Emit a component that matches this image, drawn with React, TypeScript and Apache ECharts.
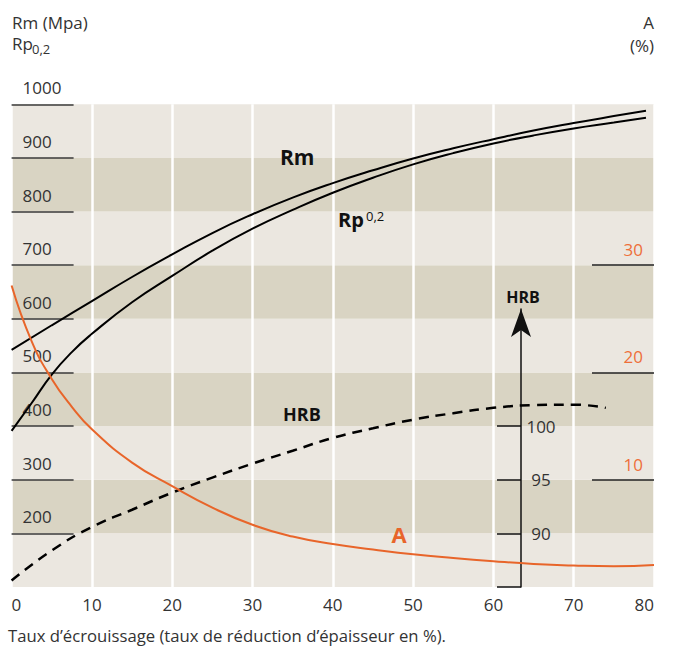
import React, { useEffect, useRef } from "react";
import * as echarts from "echarts";

// ---- data ----
const xRm = [0, 5, 10, 15, 20, 25, 30, 35, 40, 45, 50, 55, 60, 65, 70, 75, 79];
const rmValues = [542, 588, 633, 678, 720, 760, 795, 826, 853, 877, 899, 918, 935, 951, 965, 978, 988];

const xRp = [0, 2.5, 5, 7.5, 10, 15, 20, 25, 30, 35, 40, 45, 50, 55, 60, 65, 70, 75, 79];
const rpValues = [391, 443, 496, 538, 572, 631, 680, 727, 768, 803, 835, 863, 888, 909, 927, 942, 955, 966, 975];

const xElong = [0, 2.5, 5, 7.5, 10, 15, 20, 25, 30, 35, 40, 45, 50, 55, 60, 65, 70, 75, 80];
const aValues = [28.1, 22.9, 19.4, 16.8, 14.7, 11.6, 9.4, 7.4, 5.8, 4.7, 4.0, 3.5, 3.05, 2.7, 2.4, 2.15, 2.0, 1.93, 2.05];

const xHardness = [0, 5, 10, 15, 20, 25, 30, 35, 40, 45, 50, 55, 60, 65, 70, 74];
const hrbValues = [85.6, 88.4, 90.6, 92.2, 93.8, 95.2, 96.5, 97.7, 98.9, 99.8, 100.6, 101.2, 101.7, 101.95, 102.0, 101.7];

const mpaTicks = [200, 300, 400, 500, 600, 700, 800, 900, 1000];
const aTicks = [10, 20, 30];
const hrbTickValues = [85, 90, 95, 100];
const hrbLabelValues = [90, 95, 100];

const FONT = "Open Sans";
const TEXT = "#333333";
const INK = "#111111";
const ORANGE = "#e8652a";
const ORANGE_TXT = "#ee6f3a";
const LIGHT = "#ebe7e0";
const DARK = "#d9d4c3";

export default function App() {
  const ref = useRef<HTMLDivElement>(null);

  useEffect(() => {
    if (!ref.current) return;
    const chart = echarts.init(ref.current, null, { renderer: "svg" });

    const lineBase = {
      type: "line",
      xAxisIndex: 0,
      smooth: 0.5,
      symbol: "none",
    };

    const option: any = {
      animation: false,
      backgroundColor: "#ffffff",
      textStyle: { fontFamily: FONT },
      grid: [
        { left: 11.6, right: 19, top: 104.3, bottom: 59, outerBoundsMode: "none" },
        { left: 521, width: 40, top: 309, bottom: 59, outerBoundsMode: "none" },
      ],
      xAxis: [
        {
          type: "value",
          gridIndex: 0,
          min: 0,
          max: 80,
          interval: 10,
          axisLine: { show: false },
          axisTick: { show: false },
          splitLine: { show: true, lineStyle: { color: "#ffffff", width: 2.5 } },
          axisLabel: {
            color: TEXT,
            fontSize: 17,
            fontFamily: FONT,
            margin: 9,
            alignMinLabel: "left",
            alignMaxLabel: "right",
          },
        },
        { type: "value", gridIndex: 1, min: 0, max: 1, show: false },
      ],
      yAxis: [
        {
          // 0: MPa scale, background bands
          type: "value",
          gridIndex: 0,
          min: 100,
          max: 1000,
          interval: 100,
          position: "left",
          axisLine: { show: false },
          axisTick: { show: false },
          axisLabel: { show: false },
          splitLine: { show: false },
          splitArea: { show: true, areaStyle: { color: [LIGHT, DARK] } },
        },
        {
          // 1: A (%)
          type: "value",
          gridIndex: 0,
          min: 0,
          max: 45,
          position: "right",
          axisLine: { show: false },
          splitLine: { show: false },
          axisTick: {
            show: true,
            inside: true,
            length: 62,
            customValues: aTicks,
            lineStyle: { color: "#222222", width: 1.5 },
          },
          axisLabel: {
            inside: true,
            customValues: aTicks,
            align: "right",
            verticalAlign: "bottom",
            lineHeight: 17,
            padding: [0, 0, 7, 0],
            margin: 11,
            color: ORANGE_TXT,
            fontSize: 17,
            fontFamily: FONT,
          },
        },
        {
          // 2: HRB scale for the curve
          type: "value",
          gridIndex: 0,
          min: 85,
          max: 130,
          show: false,
        },
        {
          // 3: HRB arrow axis
          type: "value",
          gridIndex: 1,
          min: 85,
          max: 85 + 278 / 10.726,
          position: "left",
          axisLine: {
            show: true,
            symbol: ["none", "arrow"],
            symbolSize: [15, 28],
            lineStyle: { color: INK, width: 1.5 },
          },
          splitLine: { show: false },
          axisTick: {
            show: true,
            inside: false,
            length: 24,
            customValues: hrbTickValues,
            lineStyle: { color: INK, width: 1.5 },
          },
          axisLabel: {
            inside: true,
            customValues: hrbLabelValues,
            align: "center",
            margin: 20,
            color: TEXT,
            fontSize: 17,
            fontFamily: FONT,
          },
        },
        {
          // 4: MPa ticks & labels
          type: "value",
          gridIndex: 0,
          min: 100,
          max: 1000,
          interval: 100,
          position: "left",
          axisLine: { show: false },
          splitLine: { show: false },
          splitArea: { show: false },
          axisTick: {
            show: true,
            inside: true,
            length: 62,
            customValues: mpaTicks,
            lineStyle: { color: "#3a3a3a", width: 1.5 },
          },
          axisLabel: {
            inside: true,
            customValues: mpaTicks,
            formatter: (v: number) => String(v),
            align: "left",
            verticalAlign: "bottom",
            lineHeight: 17,
            padding: [0, 0, 8, 0],
            margin: 11,
            color: TEXT,
            fontSize: 17,
            fontFamily: FONT,
          },
        },
      ],
      series: [
        {
          ...lineBase,
          name: "Rm",
          yAxisIndex: 0,
          lineStyle: { color: "#000000", width: 2 },
          data: xRm.map((x, i) => [x, rmValues[i]]),
        },
        {
          ...lineBase,
          name: "Rp0,2",
          yAxisIndex: 0,
          lineStyle: { color: "#000000", width: 2 },
          data: xRp.map((x, i) => [x, rpValues[i]]),
        },
        {
          ...lineBase,
          name: "HRB",
          yAxisIndex: 2,
          lineStyle: { color: "#000000", width: 2.5, type: [10, 7] },
          data: xHardness.map((x, i) => [x, hrbValues[i]]),
          z: 3,
        },
        {
          ...lineBase,
          name: "A",
          yAxisIndex: 1,
          lineStyle: { color: ORANGE, width: 2 },
          data: xElong.map((x, i) => [x, aValues[i]]),
        },
      ],
      graphic: [
        { type: "text", x: 12, y: 22, style: { text: "Rm (Mpa)", fontSize: 17, fontFamily: FONT, fill: TEXT, textVerticalAlign: "middle" } },
        { type: "text", x: 12, y: 43, style: { text: "Rp", fontSize: 17, fontFamily: FONT, fill: TEXT, textVerticalAlign: "middle" } },
        { type: "text", x: 32, y: 49, style: { text: "0,2", fontSize: 13, fontFamily: FONT, fill: TEXT, textVerticalAlign: "middle" } },
        { type: "text", x: 654, y: 22, style: { text: "A", fontSize: 17, fontFamily: FONT, fill: TEXT, textAlign: "right", textVerticalAlign: "middle" } },
        { type: "text", x: 654, y: 45, style: { text: "(%)", fontSize: 17, fontFamily: FONT, fill: TEXT, textAlign: "right", textVerticalAlign: "middle" } },
        { type: "text", x: 280, y: 157, z: 100, style: { text: "Rm", fontSize: 21, fontWeight: "bold", fontFamily: FONT, fill: INK, textVerticalAlign: "middle" } },
        { type: "text", x: 338, y: 219, z: 100, style: { text: "Rp", fontSize: 20, fontWeight: "bold", fontFamily: FONT, fill: INK, textVerticalAlign: "middle" } },
        { type: "text", x: 366, y: 216, z: 100, style: { text: "0,2", fontSize: 13, fontFamily: FONT, fill: INK, textVerticalAlign: "middle" } },
        { type: "text", x: 283, y: 414, z: 100, style: { text: "HRB", fontSize: 18, fontWeight: "bold", fontFamily: FONT, fill: INK, textVerticalAlign: "middle" } },
        { type: "text", x: 523, y: 297, z: 100, style: { text: "HRB", fontSize: 16, fontWeight: "bold", fontFamily: FONT, fill: INK, textAlign: "center", textVerticalAlign: "middle" } },
        { type: "text", x: 399, y: 534, z: 100, style: { text: "A", fontSize: 22, fontWeight: "bold", fontFamily: FONT, fill: ORANGE, textAlign: "center", textVerticalAlign: "middle" } },
        { type: "text", x: 8, y: 635, style: { text: "Taux d’écrouissage (taux de réduction d’épaisseur en %).", fontSize: 16.7, fontFamily: FONT, fill: TEXT, textVerticalAlign: "middle" } },
      ],
    };

    chart.setOption(option);
    return () => chart.dispose();
  }, []);

  return (
    <div
      ref={ref}
      style={{ position: "fixed", left: 0, top: 0, width: 673, height: 646 }}
    />
  );
}
